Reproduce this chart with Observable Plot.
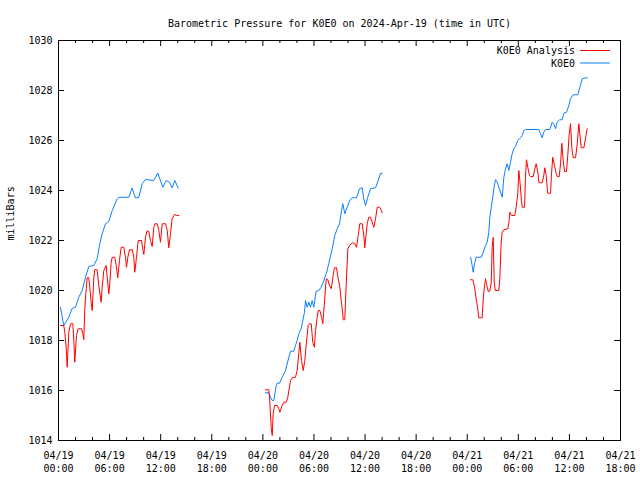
<!DOCTYPE html>
<html><head><meta charset="utf-8">
<script src="https://cdn.jsdelivr.net/npm/d3@7"></script>
<script src="https://cdn.jsdelivr.net/npm/@observablehq/plot@0.6"></script>
<style>html,body{margin:0;padding:0;background:#fff} svg{display:block}</style>
</head><body><div id="chart"></div>
<script>
const title = "Barometric Pressure for K0E0 on 2024-Apr-19 (time in UTC)";
const yLabel = "milliBars";
const seriesNames = ["K0E0 Analysis", "K0E0"];
const seriesColors = ["#ff0000", "#0a80ff"];
const startTime = Date.UTC(2024, 3, 19, 0);
const endTime = Date.UTC(2024, 3, 21, 18);
const yTicks = [1014, 1016, 1018, 1020, 1022, 1024, 1026, 1028, 1030];

// [hours since 2024-04-19 00:00 UTC, millibars]
const analysis = [
  [0.23,1018.6],[0.62,1018.6],[0.74,1018.33],[0.90,1017.73],[1.02,1016.93],[1.21,1018.33],[1.41,1018.67],[1.68,1018.67],
  [1.80,1018.0],[1.91,1017.13],[2.11,1018.2],[2.31,1018.47],[2.70,1018.47],[2.85,1018.27],[2.97,1018.03],[3.09,1019.27],
  [3.25,1020.07],[3.37,1020.51],[3.56,1020.51],[3.68,1020.13],[3.84,1019.49],[3.96,1019.2],[4.15,1020.53],[4.26,1020.83],
  [4.54,1020.83],[4.73,1020.2],[5.01,1019.53],[5.13,1020.13],[5.32,1020.8],[5.60,1021.0],[5.72,1020.53],[5.91,1019.87],
  [6.02,1020.27],[6.19,1021.13],[6.31,1021.33],[6.61,1021.33],[6.78,1021.0],[6.96,1020.51],[7.16,1021.2],[7.36,1021.73],
  [7.67,1021.73],[7.87,1021.33],[7.99,1020.93],[8.14,1021.33],[8.34,1021.63],[8.66,1021.63],[8.84,1021.33],[8.96,1020.73],
  [9.16,1021.33],[9.36,1022.0],[9.75,1022.0],[9.90,1021.63],[10.02,1021.44],[10.22,1022.13],[10.37,1022.37],[10.60,1022.37],
  [10.80,1022.0],[11.00,1021.76],[11.19,1022.53],[11.31,1022.67],[11.59,1022.67],[11.78,1022.4],[11.98,1021.93],[12.18,1022.67],
  [12.57,1022.67],[12.77,1022.4],[12.95,1021.71],[13.15,1022.27],[13.35,1022.87],[13.62,1023.04],[13.94,1023.0],[14.13,1023.0],
  [24.31,1016.03],[24.70,1016.03],[24.78,1015.73],[24.98,1014.53],[25.10,1014.2],[25.21,1015.07],[25.37,1015.4],[25.68,1015.4],
  [25.87,1015.27],[25.99,1015.13],[26.27,1015.4],[26.46,1015.53],[26.74,1015.53],[26.93,1015.73],[27.05,1016.0],[27.25,1016.4],
  [27.45,1016.51],[27.83,1016.53],[28.03,1016.8],[28.22,1017.47],[28.34,1017.93],[28.54,1017.2],[28.74,1016.8],[28.93,1017.2],
  [29.12,1017.93],[29.32,1018.6],[29.48,1018.67],[29.68,1018.67],[29.86,1017.93],[30.06,1017.73],[30.18,1018.4],[30.38,1018.93],
  [30.50,1019.2],[30.69,1019.2],[30.89,1018.93],[31.04,1018.67],[31.24,1019.53],[31.44,1020.47],[31.63,1020.43],[31.83,1020.2],
  [32.03,1020.07],[32.26,1020.6],[32.41,1020.91],[32.65,1020.91],[32.85,1020.47],[33.04,1020.13],[33.24,1019.47],[33.39,1019.07],
  [33.43,1018.83],[33.62,1018.83],[33.79,1020.27],[33.98,1021.67],[34.18,1021.8],[34.49,1021.91],[34.80,1021.87],[35.00,1021.73],
  [35.20,1022.2],[35.38,1022.67],[35.67,1022.67],[35.85,1022.2],[35.97,1021.71],[36.25,1022.67],[36.44,1022.93],[36.64,1022.93],
  [36.84,1022.73],[37.03,1022.53],[37.23,1022.87],[37.43,1023.33],[37.70,1023.33],[37.93,1023.2],[38.02,1023.11],
  [48.39,1020.43],[48.66,1020.43],[48.86,1020.13],[49.05,1019.67],[49.24,1019.27],[49.36,1018.91],[49.76,1018.91],[49.88,1019.67],
  [50.03,1020.2],[50.15,1020.47],[50.26,1020.27],[50.46,1019.97],[50.65,1019.97],[50.82,1020.33],[50.93,1021.73],[51.05,1022.13],
  [51.17,1020.33],[51.29,1020.0],[51.71,1020.0],[51.83,1020.47],[51.99,1021.93],[52.11,1022.33],[52.30,1022.43],[52.77,1022.47],
  [52.93,1022.8],[53.00,1023.13],[53.20,1023.0],[53.59,1023.0],[53.75,1023.33],[53.94,1023.87],[54.06,1024.8],[54.18,1024.4],
  [54.37,1023.6],[54.46,1023.33],[54.73,1023.33],[54.84,1024.53],[54.96,1025.23],[55.11,1024.93],[55.31,1024.6],[55.43,1024.56],
  [55.75,1024.56],[55.94,1024.87],[56.10,1025.07],[56.29,1024.73],[56.41,1024.33],[56.60,1024.31],[56.80,1024.31],[56.99,1024.6],
  [57.11,1024.91],[57.27,1024.6],[57.39,1024.13],[57.46,1023.89],[57.78,1023.89],[57.90,1024.67],[58.05,1025.33],[58.25,1025.0],
  [58.45,1024.67],[58.57,1024.56],[58.80,1024.56],[58.96,1025.07],[59.11,1025.89],[59.27,1025.2],[59.43,1024.76],[59.66,1024.76],
  [59.82,1025.47],[59.98,1026.27],[60.13,1026.67],[60.29,1025.67],[60.45,1025.31],[60.72,1025.31],[60.92,1025.87],[61.11,1026.67],
  [61.22,1026.27],[61.39,1025.71],[61.70,1025.71],[61.90,1026.11],[62.09,1026.47]
];

const koeo = [
  [0.23,1019.33],[0.62,1018.6],[1.21,1018.93],[1.61,1019.29],[2.00,1019.33],[2.38,1019.73],[2.78,1020.0],[3.17,1020.53],
  [3.56,1020.96],[4.15,1021.0],[4.54,1021.27],[4.85,1021.87],[5.13,1022.27],[5.52,1022.67],[5.91,1022.76],[6.31,1023.2],
  [6.89,1023.67],[7.08,1023.73],[8.26,1023.73],[8.65,1024.1],[9.04,1023.7],[9.43,1023.73],[9.83,1024.27],[10.22,1024.44],
  [11.19,1024.4],[11.66,1024.7],[12.25,1024.13],[12.65,1024.4],[13.04,1024.33],[13.35,1024.1],[13.66,1024.4],[14.06,1024.1],
  [24.31,1015.91],[24.70,1015.91],[24.90,1015.73],[25.10,1015.6],[25.28,1015.6],[25.57,1016.2],[25.68,1016.29],[25.95,1016.29],
  [26.27,1016.53],[26.66,1016.8],[27.05,1017.33],[27.25,1017.57],[27.63,1017.57],[27.83,1017.8],[28.03,1018.0],[28.22,1018.27],
  [28.50,1018.47],[28.69,1018.8],[28.89,1019.13],[29.01,1019.6],[29.21,1019.33],[29.40,1019.53],[29.59,1019.33],[29.79,1019.6],
  [29.98,1019.33],[30.26,1019.97],[30.57,1020.0],[30.85,1020.13],[31.16,1020.4],[31.44,1020.67],[31.74,1021.07],[32.14,1021.67],
  [32.45,1022.2],[32.73,1022.47],[33.00,1022.67],[33.24,1023.2],[33.39,1023.47],[33.62,1023.07],[33.90,1023.33],[34.21,1023.6],
  [34.49,1023.71],[35.00,1023.71],[35.35,1024.07],[35.67,1024.11],[35.85,1023.67],[36.05,1023.4],[36.32,1023.73],[36.64,1024.07],
  [37.23,1024.11],[37.55,1024.4],[37.82,1024.69],[38.02,1024.69],
  [48.39,1021.33],[48.58,1021.0],[48.70,1020.73],[48.86,1021.07],[49.05,1021.33],[49.64,1021.33],[49.88,1021.53],[50.15,1021.8],
  [50.35,1021.93],[50.53,1022.33],[50.65,1022.93],[50.82,1023.33],[51.00,1023.73],[51.12,1024.07],[51.32,1024.43],[51.52,1024.33],
  [51.71,1024.13],[51.91,1023.93],[52.11,1023.73],[52.30,1024.53],[52.50,1024.87],[52.70,1025.07],[52.88,1024.8],[53.08,1025.13],
  [53.28,1025.47],[53.47,1025.67],[53.67,1025.76],[53.94,1026.0],[54.26,1026.11],[54.46,1026.2],[54.64,1026.4],[54.84,1026.44],
  [56.41,1026.44],[56.60,1026.27],[56.80,1026.11],[56.99,1026.33],[57.19,1026.44],[57.70,1026.44],[57.98,1026.73],[58.17,1026.67],
  [58.37,1026.47],[58.57,1026.73],[58.84,1026.83],[59.15,1026.83],[59.34,1027.09],[59.66,1027.13],[59.93,1027.4],[60.13,1027.67],
  [60.45,1027.83],[60.99,1027.83],[61.22,1028.13],[61.51,1028.47],[61.90,1028.51],[62.09,1028.51]
];

function toRows(pairs, name) {
  let seg = 0, prev = null;
  return pairs.map(([h, v]) => {
    if (prev !== null && h - prev > 4) seg++;
    prev = h;
    return {t: new Date(startTime + h * 3600e3), v, seg: name + "-" + seg};
  });
}
const analysisRows = toRows(analysis, seriesNames[0]);
const koeoRows = toRows(koeo, seriesNames[1]);

const W = 640, H = 480, mL = 58, mR = 20, mT = 40, mB = 40;
const fw = W - mL - mR, fh = H - mT - mB;
const majorX = d3.utcHour.every(6).range(new Date(startTime), new Date(endTime + 1));
const minorX = d3.utcHour.every(2).range(new Date(startTime), new Date(endTime + 1)).filter(d => d.getUTCHours() % 6 !== 0);
const font = "'DejaVu Sans Mono', monospace";
const majLen = 6, minLen = 3;

const legend = (index, scales, values, dims) => {
  const g = d3.create("svg:g").attr("font-family", font).attr("font-size", 10);
  const xr = dims.width - dims.marginRight;
  seriesNames.forEach((name, i) => {
    const y = dims.marginTop + 10.5 + i * 12.5;
    g.append("text").attr("x", xr - 45).attr("y", y).attr("dy", "0.35em")
      .attr("text-anchor", "end").attr("fill", "black").text(name);
    g.append("line").attr("x1", xr - 40).attr("x2", xr - 10).attr("y1", y).attr("y2", y)
      .attr("stroke", seriesColors[i]).attr("stroke-width", 1);
  });
  return g.node();
};

const chart = Plot.plot({
  width: W, height: H,
  marginLeft: mL, marginRight: mR, marginTop: mT, marginBottom: mB,
  style: {fontFamily: font, fontSize: "10px", background: "#fff", color: "#000"},
  x: {type: "utc", domain: [new Date(startTime), new Date(endTime)]},
  y: {domain: [1014, 1030]},
  marks: [
    Plot.line(koeoRows, {x: "t", y: "v", z: "seg", stroke: seriesColors[1], strokeWidth: 1, curve: "linear"}),
    Plot.line(analysisRows, {x: "t", y: "v", z: "seg", stroke: seriesColors[0], strokeWidth: 1, curve: "linear"}),
    Plot.frame({stroke: "black"}),
    Plot.tickX(majorX, {x: d => d, insetTop: fh - majLen, stroke: "black"}),
    Plot.tickX(majorX, {x: d => d, insetBottom: fh - majLen, stroke: "black"}),
    Plot.tickX(minorX, {x: d => d, insetTop: fh - minLen, stroke: "black"}),
    Plot.tickX(minorX, {x: d => d, insetBottom: fh - minLen, stroke: "black"}),
    Plot.tickY(yTicks, {y: d => d, insetRight: fw - majLen, stroke: "black"}),
    Plot.tickY(yTicks, {y: d => d, insetLeft: fw - majLen, stroke: "black"}),
    Plot.axisX({ticks: majorX, tickSize: 0, tickPadding: 9, tickFormat: d3.utcFormat("%m/%d\n%H:%M"), lineHeight: 1.3, label: null}),
    Plot.axisY({ticks: yTicks, tickSize: 0, tickPadding: 6, tickFormat: d => String(d), label: null}),
    Plot.text([title], {text: d => d, frameAnchor: "top", dy: -21, fontSize: 10}),
    Plot.text([yLabel], {text: d => d, frameAnchor: "left", dx: -48, rotate: -90, fontSize: 10}),
    legend
  ]
});
document.getElementById("chart").append(chart);
</script>
</body></html>
